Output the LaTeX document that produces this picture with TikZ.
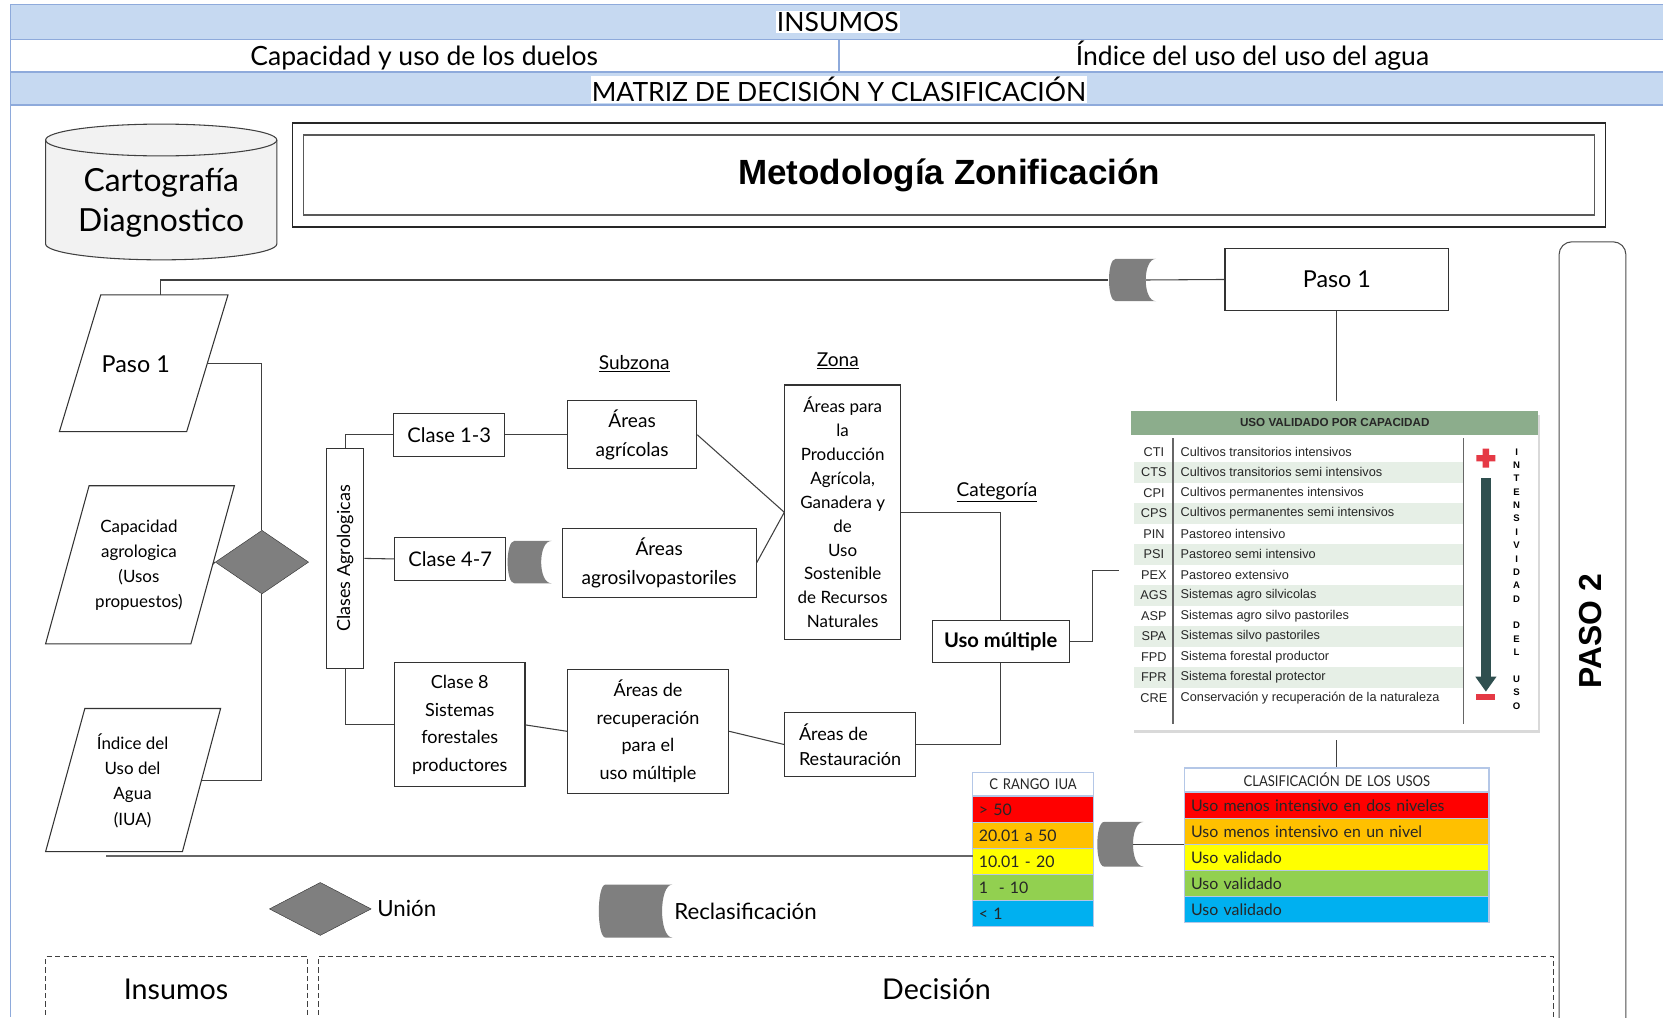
\documentclass[tikz,border=0pt]{standalone}
\usepackage{fontspec}
\setmainfont{Lato}
\newfontfamily\arial{Liberation Sans}
\newfontfamily\angosta[FakeStretch=0.88]{Lato}
\usepackage{tikz}
\usetikzlibrary{shapes.geometric,positioning,shadows}
\newcommand{\tam}[2]{\fontsize{#1}{#2}\selectfont}

\definecolor{azulbanda}{HTML}{C6D9F1}
\definecolor{azullinea}{HTML}{8EAADB}
\definecolor{gris}{HTML}{7F7F7F}
\definecolor{grisclaro}{HTML}{F2F2F2}
\definecolor{verdetabla}{HTML}{8CAD8C}
\definecolor{verdefila}{HTML}{E6EFE6}
\definecolor{pizarra}{HTML}{2F4F4F}
\definecolor{rojocruz}{HTML}{E53945}
\definecolor{rojo}{HTML}{FF0000}
\definecolor{naranja}{HTML}{FFC000}
\definecolor{amarillo}{HTML}{FFFF00}
\definecolor{verde}{HTML}{92D050}
\definecolor{celeste}{HTML}{00B0F0}
\definecolor{bordetabla}{HTML}{B4C7E7}

\tikzstyle{caja}=[draw=black!80, line width=1pt, fill=white, align=center, inner sep=2pt]
\tikzstyle{borde}=[draw=black!80, line width=1pt]
\tikzstyle{union}=[diamond, draw=black!80, fill=gris, inner sep=0pt]
\tikzstyle{linea}=[draw=black!75, line width=1pt]
\tikzstyle{rotulo}=[font=\tam{18}{22}]
\tikzstyle{celda}=[draw=bordetabla, line width=1.3pt, align=left, inner xsep=6pt, inner ysep=0pt, text=black!85, font=\tam{15}{17}]
\tikzstyle{fila}=[inner sep=0pt, text=black!85, font=\arial\tam{12}{14}]
\tikzstyle{reclas}=[inner sep=0pt, fill=white, path picture={
    \fill[gris] ([xshift=7pt]path picture bounding box.north west) -- (path picture bounding box.north east)
      .. controls ([xshift=-13pt]path picture bounding box.north east) and ([xshift=-13pt]path picture bounding box.south east) .. (path picture bounding box.south east)
      -- ([xshift=7pt]path picture bounding box.south west)
      .. controls ([xshift=-1.5pt]path picture bounding box.south west) and ([xshift=-1.5pt]path picture bounding box.north west) .. cycle;
}]

\begin{document}
\begin{tikzpicture}[x=1pt, y=-1pt]
\useasboundingbox (0,0) rectangle (1568,959);
\clip (0,0) rectangle (1568,959);

% bandas de encabezado
\fill[azulbanda] (10,4) rectangle (1568,37);
\fill[azulbanda] (10,68) rectangle (1568,99);
\draw[azullinea, line width=1.2pt] (10,4) -- (1568,4) (10,37) -- (1568,37) (10,68) -- (1568,68) (10,99) -- (1568,99) (791,37) -- (791,68);
\draw[azullinea, line width=1pt] (10,4) -- (10,959);
\node[fill=white, inner sep=1pt, font=\tam{25}{28}] (insumos) at (790,21) {INSUMOS};
\node[anchor=base, font=\tam{25}{28}] (capUso) at (400,62) {Capacidad y uso de los duelos};
\node[anchor=base, font=\tam{25}{28}] (indAgua) at (1181,62) {Índice del uso del uso del agua};
\node[fill=white, inner sep=1pt, font=\tam{25}{28}] (matriz) at (791,84) {MATRIZ DE DECISIÓN Y CLASIFICACIÓN};

% cartografia
\filldraw[draw=black!75, fill=grisclaro, line width=1pt] (43,132) -- (43,230) arc[start angle=180, end angle=360, x radius=109pt, y radius=15pt] -- (261,132) arc[start angle=0, end angle=180, x radius=109pt, y radius=15pt] -- cycle;
\draw[black!75, line width=1pt] (43,132) arc[start angle=180, end angle=360, x radius=109pt, y radius=15pt];
\node[align=center, font=\tam{30}{38}] (carto) at (152,191) {Cartografía\\Diagnostico};

% titulo
\node[draw=black!85, line width=1.2pt, minimum width=1238, minimum height=98, font=\arial\bfseries\tam{33}{36}] (titulo) at (895,165) {Metodología Zonificación};
\draw[black!65, line width=1.2pt] ([shift={(11pt,-12pt)}]titulo.north west) rectangle ([shift={(-11pt,12pt)}]titulo.south east);

% paso 2
\node[draw=black!70, line width=1pt, rounded corners=12pt, minimum width=63, minimum height=760] (paso2) at (1501.5,608) {};
\node[rotate=90, font=\arial\bfseries\tam{30}{34}] (paso2txt) at (1500,595) {PASO 2};

% insumos (paralelogramos)
\draw[borde] (95,278) -- (215,278) -- (176,407) -- (56,407) -- cycle;
\node[font=\tam{22}{26}] (pasoA) at (128,343) {Paso 1};
\coordinate (pasoAsup) at (151,278);
\coordinate (pasoAder) at (195.3,343);

\draw[borde] (84,458) -- (221,458) -- (180,607) -- (43,607) -- cycle;
\node[align=center, font=\tam{16}{23.5}] (capac) at (131,533) {Capacidad\\agrologica\\(Usos\\propuestos)};
\coordinate (capacDer) at (200.6,532);

\draw[borde] (80,668) -- (208,668) -- (172,803) -- (43,803) -- cycle;
\node[align=center, font=\tam{16}{24}] (indice) at (125,736) {Índice del\\Uso del\\Agua\\(IUA)};
\coordinate (indiceDer) at (190,736);
\coordinate (indiceSal) at (100,807);

\node[union, minimum width=88, minimum height=60] (union) at (247,530) {};
\draw[linea] (pasoAder) -| (union.north);
\draw[linea] (capacDer) -- (union.west);
\draw[linea] (indiceDer) -| (union.south);

% paso 1
\node[caja, minimum width=211, minimum height=59, font=\tam{22}{26}] (pasoB) at (1260.5,263.5) {Paso 1};
\node[reclas, minimum width=45, minimum height=40] (rcA) at (1067.5,264) {};
\draw[linea] (pasoAsup) |- (rcA.west);
\draw[linea] ([xshift=-10pt]rcA.east) -- (pasoB.west);

% clases agrologicas
\node[caja, minimum width=35, minimum height=207] (clases) at (325.5,526.5) {};
\node[rotate=90, font=\tam{17}{20}] (clasesTxt) at (clases) {Clases Agrologicas};
\node[caja, minimum width=105, minimum height=40, font=\tam{19}{22}] (c13) at (423.5,410) {Clase 1-3};
\node[caja, minimum width=105, minimum height=40, font=\tam{19}{22}] (c47) at (424.5,527) {Clase 4-7};
\node[caja, minimum width=123, minimum height=117, font=\tam{17}{26}] (c8) at (433.5,683.5) {Clase 8\\Sistemas\\forestales\\productores};
\node[reclas, minimum width=42, minimum height=40] (rcC) at (499,530) {};

\node[caja, minimum width=122, minimum height=64, font=\tam{18}{27}] (agric) at (596,410) {Áreas\\agrícolas};
\node[caja, minimum width=183, minimum height=65, font=\tam{18}{27}] (agrosil) at (621.5,530.5) {Áreas\\agrosilvopastoriles};
\node[caja, minimum width=152, minimum height=117, font=\tam{17}{26}] (recup) at (611,689.5) {Áreas de\\recuperación\\para el\\uso múltiple};
\node[caja, minimum width=109, minimum height=240, font=\tam{16}{22.6}] (zona) at (794.5,483) {Áreas para\\la\\Producción\\Agrícola,\\Ganadera y\\de\\Uso\\Sostenible\\de Recursos\\Naturales};
\node[caja, minimum width=123, minimum height=60, align=left, font=\tam{17}{24}] (resta) at (801.5,702) {Áreas de\\Restauración};
\node[caja, minimum width=129, minimum height=40, font=\bfseries\tam{19}{22}] (multi) at (943.5,605) {Uso múltiple};

\node[rotulo] (subzona) at (598,343) {\underline{Subzona}};
\node[rotulo] (zonaTit) at (790,340) {\underline{Zona}};
\node[rotulo] (categ) at (940,464) {\underline{Categoría}};

\draw[linea] (clases.north) |- (c13.west);
\draw[linea] (clases.east) -- (c47.west);
\draw[linea] (clases.south) |- (c8.west);
\draw[linea] (c13.east) -- (agric.west);
\draw[linea] (agric.east) -- (zona.west);
\draw[linea] (agrosil.east) -- (zona.west);
\draw[linea] (c8.east) -- (recup.west);
\draw[linea] (recup.east) -- (resta.west);
\draw[linea] (zona.east) -| (multi.north);
\draw[linea] (resta.east) -| (multi.south);
\coordinate (usosIn) at (1055,538);
\draw[linea] (multi.east) -- ++(22,0) |- (usosIn);

% tabla de usos validados
\node[fill=white, minimum width=383, minimum height=300, inner sep=0pt, drop shadow={opacity=0.3, shadow xshift=2pt, shadow yshift=-3pt}] (usos) at (1258.5,538) {};
\fill[verdetabla] (usos.north west) rectangle ([yshift=-22pt]usos.north east);
\node[font=\arial\bfseries\tam{11}{12}, text=black!85] (usosTit) at ([yshift=-11pt]usos.north) {USO VALIDADO POR CAPACIDAD};
\foreach \cod/\des [count=\i] in {CTI/Cultivos transitorios intensivos, CTS/Cultivos transitorios semi intensivos, CPI/Cultivos permanentes intensivos, CPS/Cultivos permanentes semi intensivos, PIN/Pastoreo intensivo, PSI/Pastoreo semi intensivo, PEX/Pastoreo extensivo, AGS/Sistemas agro silvicolas, ASP/Sistemas agro silvo pastoriles, SPA/Sistemas silvo pastoriles, FPD/Sistema forestal productor, FPR/Sistema forestal protector, CRE/Conservación y recuperación de la naturaleza}
{
    \pgfmathsetmacro\yy{426+(\i-1)*19.35}
    \ifodd\i\else \fill[verdefila] (1069,\yy-9.6) rectangle (1380,\yy+9.6); \fi
    \node[fila] (cod\i) at (1088,\yy) {\cod};
    \node[fila, anchor=west] (des\i) at (1113,\yy) {\des};
}
\draw[black!60, line width=1pt] (1106,413) -- (1106,683) (1380,413) -- (1380,683);
\fill[rojocruz] (1392,429) rectangle (1410,435) (1398,423) rectangle (1404,441);
\fill[pizarra] (1396,451) rectangle (1406,640);
\fill[pizarra] (1391,638) -- (1411,638) -- (1401,652) -- cycle;
\fill[rojocruz] (1392,654) rectangle (1410,660);
\foreach \l [count=\k] in {I,N,T,E,N,S,I,V,I,D,A,D,{},D,E,L,{},U,S,O}
    \node[font=\arial\bfseries\tam{9}{10}, inner sep=0pt] (letra\k) at (1430,{426+(\k-1)*12.6}) {\l};

\coordinate (usosArr) at (1260.5,378);
\coordinate (usosAb) at (1260.5,698);
\draw[linea] (pasoB.south) -- (usosArr);

% rangos IUA
\node[celda, fill=white, align=center, text width=102, minimum height=22, font=\angosta\tam{14}{16}] (rango) at (974,739.5) {C RANGO IUA};
\foreach \col/\txt [count=\i] in {rojo/> 50, naranja/20.01 a 50, amarillo/10.01 - 20, verde/1 \ - 10, celeste/< 1}
    \node[celda, fill=\col, text width=102, minimum height=24.5] (rango\i) at (974,{763.5+(\i-1)*24.5}) {\txt};
\coordinate (iuaEnt) at (917,807);
\draw[gray!80!black, line width=1.6pt] (indiceSal) -- (iuaEnt);

% clasificacion de los usos
\node[reclas, minimum width=44, minimum height=42] (rcB) at (1056,796) {};
\node[celda, fill=white, align=center, text width=275, minimum height=22, font=\angosta\tam{14}{16}] (clasif) at (1260.5,735) {CLASIFICACIÓN DE LOS USOS};
\foreach \col/\txt [count=\i] in {rojo/Uso menos intensivo en dos niveles, naranja/Uso menos intensivo en un nivel, amarillo/Uso validado, verde/Uso validado, celeste/Uso validado}
    \node[celda, fill=\col, text width=275, minimum height=24.5] (clasif\i) at (1260.5,{759.5+(\i-1)*24.5}) {\txt};
\draw[linea] ([xshift=-10pt]rcB.east) -- (rcB.east -| clasif.west);
\draw[linea] (usosAb) -- (clasif.north);

% leyenda
\node[union, minimum width=96, minimum height=50] (unionL) at (302,857) {};
\node[right=2pt of unionL, font=\tam{21}{24}] (unionTxt) {Unión};
\node[reclas, minimum width=70, minimum height=50] (rcL) at (599,859) {};
\node[right=-2pt of rcL, font=\tam{21}{24}] (reclasTxt) {Reclasificación};

% insumos / decision
\draw[black!75, line width=1pt, dash pattern=on 5pt off 3pt] (43,965) -- (43,902) -- (290,902) -- (290,965);
\draw[black!75, line width=1pt, dash pattern=on 5pt off 3pt] (300,965) -- (300,902) -- (1465,902) -- (1465,965);
\node[font=\tam{27}{30}] (insumosB) at (166,933) {Insumos};
\node[font=\tam{27}{30}] (decision) at (883,933) {Decisión};

\end{tikzpicture}
\end{document}
